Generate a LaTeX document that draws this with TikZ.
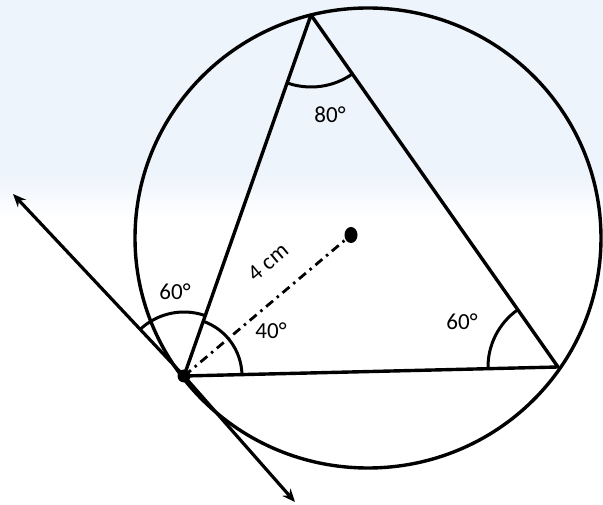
\documentclass[tikz,border=0pt]{standalone}
\usepackage{fontspec}
\setmainfont{Carlito}
\usetikzlibrary{arrows.meta}
\definecolor{bgblue}{RGB}{238,244,251}
\tikzset{
  geo/.style={line width=3.4pt, line join=round},
  anglearc/.style={line width=3pt},
  lbl/.style={font=\fontsize{23}{27}\selectfont, inner sep=0pt},
  tangentarrow/.style={line width=3.2pt, -{Stealth[length=13pt,width=11pt]}},
  radiusline/.style={line width=2.8pt, dash pattern=on 9pt off 5pt on 2.5pt off 5pt}
}
\begin{document}
\begin{tikzpicture}[x=1pt,y=1pt]
\useasboundingbox (0,0) rectangle (603,504);
% faint background
\fill[bgblue] (0,504) rectangle (603,330);
\shade[top color=bgblue,bottom color=white] (0,330) rectangle (603,285);
% points
\coordinate (A) at (184,128);
\coordinate (B) at (311,489);
\coordinate (C) at (558,137);
\coordinate (O) at (351,269);
\coordinate (K) at (368,266);
\coordinate (T1) at (13,310);
\coordinate (T2) at (295,2);
% circle
\draw[geo] (K) ellipse[x radius=233, y radius=230];
% triangle
\draw[geo] (A) -- (B) -- (C) -- cycle;
% tangent line
\draw[tangentarrow] (A) -- (T1);
\draw[tangentarrow] (A) -- (T2);
% radius
\draw[radiusline] (A) -- (O);
% angle arcs
\draw[anglearc] ([shift={(1.38:58pt)}]A) arc[start angle=1.38, end angle=70.62, radius=58pt];
\draw[anglearc] ([shift={(70.62:64pt)}]A) arc[start angle=70.62, end angle=133.22, radius=64pt];
\draw[anglearc] ([shift={(250.62:72pt)}]B) arc[start angle=250.62, end angle=305.06, radius=72pt];
\draw[anglearc] ([shift={(125.06:70pt)}]C) arc[start angle=125.06, end angle=181.38, radius=70pt];
% dots
\fill (A) circle[radius=6.5pt];
\fill (O) ellipse[x radius=6.5pt, y radius=8pt];
% labels
\node[lbl] (l80) at (330,389) {80°};
\node[lbl] (l60c) at (462,182) {60°};
\node[lbl] (l40) at (271,173) {40°};
\node[lbl] (l60a) at (175,212) {60°};
\node[lbl, rotate=40] (l4) at (268,242) {4 cm};
\end{tikzpicture}
\end{document}
